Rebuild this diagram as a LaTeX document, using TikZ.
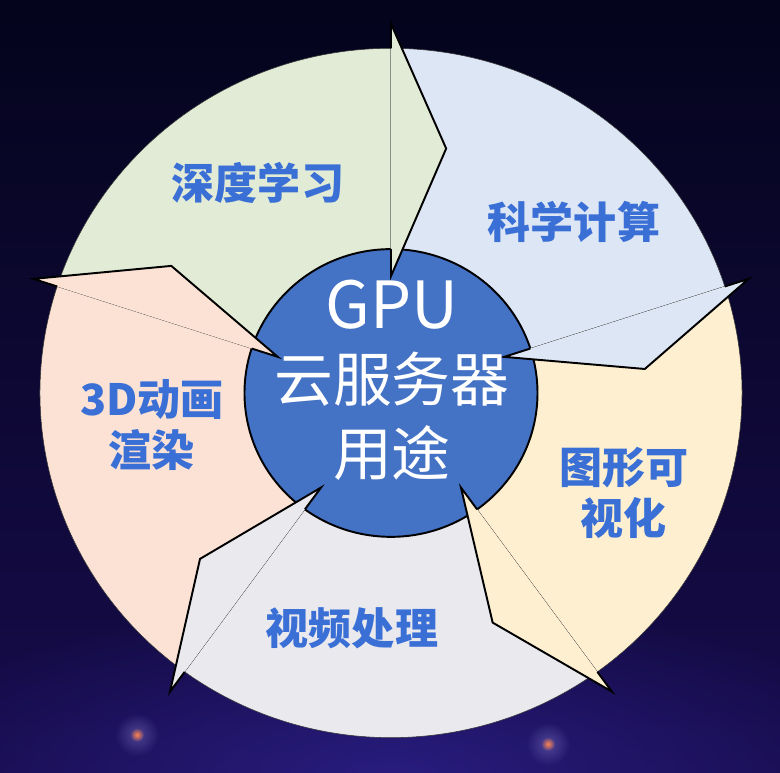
\documentclass[tikz,border=0pt]{standalone}
\usepackage{fontspec}
\setmainfont{Noto Sans CJK SC}
\usetikzlibrary{fadings}
\definecolor{bgtop}{HTML}{04041C}
\definecolor{bgbot}{HTML}{170C4C}
\definecolor{glow}{HTML}{3A2CB0}
\definecolor{segGreen}{HTML}{E2EBD5}
\definecolor{segBlue}{HTML}{DCE6F4}
\definecolor{segYellow}{HTML}{FDEFCF}
\definecolor{segGray}{HTML}{E9E9EE}
\definecolor{segPink}{HTML}{FBE2D5}
\definecolor{hubblue}{HTML}{4472C4}
\definecolor{lblblue}{HTML}{3A6FD6}
\tikzfading[name=softglow, inner color=transparent!0, outer color=transparent!100]
\begin{document}
\begin{tikzpicture}[
		x = 0.2mm,
		y = 0.1964mm,
		line join = miter,
		seg/.style = {draw=black!80, line width=0.3pt},
		head/.style = {draw=black, line width=1.1pt},
		lbl/.style = {text=lblblue, align=center,
			font=\fontsize{24.5}{29}\selectfont\bfseries},
		hub/.style = {text=white, align=center,
			font=\fontsize{33.5}{42}\selectfont},
		]
\useasboundingbox (-391,-386.2) rectangle (389,400.2);
\fill[top color=bgtop, bottom color=bgbot] (-391,-386.2) rectangle (389,400.2);
\fill[glow, fill opacity=0.5, path fading=softglow]
	(0,-386) ellipse [x radius=520, y radius=180];
\foreach \p in {(-254,-348), (157,-357.4)} {
	\fill[glow!60!white, fill opacity=0.45, path fading=softglow]
		\p circle [radius=22];
	\fill[orange!60!red!70!white, path fading=softglow] \p circle [radius=7];
}
% ring segments
\foreach \s/\col in {162/segGreen, 90/segBlue, 18/segYellow, -54/segGray, -126/segPink} {
	\pgfmathsetmacro{\e}{\s-72}
	\filldraw[seg, fill=\col] (\s:146.5) -- (\s:351)
		arc [start angle=\s, end angle=\e, radius=351] -- (\e:146.5)
		arc [start angle=\e, end angle=\s, radius=146.5] -- cycle;
}
\filldraw[fill=hubblue, draw=black, line width=1.1pt] (0,0) circle [radius=146.5];
% arrow heads
\foreach \e/\col in {90/segGreen, 18/segBlue, -54/segYellow, -126/segGray, 162/segPink} {
	\filldraw[head, fill=\col] (\e:351) -- (\e:376) -- (\e-12.5:255) -- (\e:119) -- (\e:146.5);
}
\node[lbl]	(deep)		at (-133,213.8)	{深度学习};
\node[lbl]	(science)	at (183,174.1)	{科学计算};
\node[lbl]	(render)	at (-239,-32.6)	{3D动画\\渲染};
\node[lbl]	(visual)	at (233,-101.8)	{图形可\\视化};
\node[lbl]	(video)		at (-39,-239.3)	{视频处理};
\node[hub]	(center)	at (1,13)	{{\fontsize{37}{42}\selectfont GPU}\\云服务器\\用途};
\end{tikzpicture}
\end{document}
